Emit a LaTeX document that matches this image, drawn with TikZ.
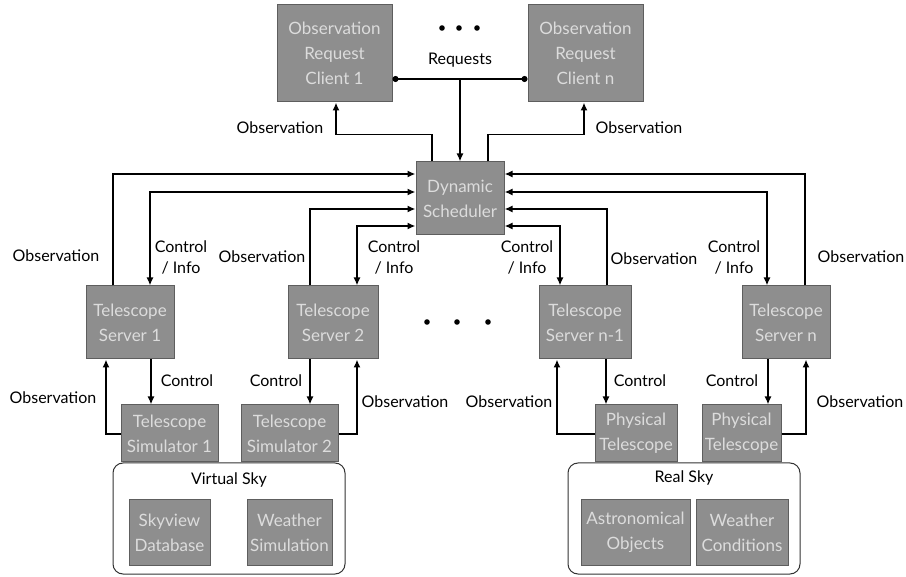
\documentclass[tikz,border=0pt]{standalone}
\usepackage{fontspec}
\setmainfont{Lato}
\usetikzlibrary{arrows.meta}

\definecolor{boxfill}{HTML}{8E8E8E}
\definecolor{boxline}{HTML}{5E5E5E}
\definecolor{boxtext}{HTML}{DCDCDC}

\tikzset{
    >={Latex[length=8pt,width=7pt]},
    box/.style={draw=boxline, fill=boxfill, text=boxtext, line width=1pt, align=center,
        inner sep=0pt, font=\fontsize{17}{25}\selectfont},
    sky/.style={draw=black!80, fill=white, line width=1pt, rounded corners=10pt, inner sep=0pt},
    lbl/.style={align=center, font=\fontsize{16}{21}\selectfont},
    link/.style={line width=1.8pt},
}

\begin{document}
\begin{tikzpicture}[x=1pt, y=-1pt]

    \useasboundingbox (0,0) rectangle (906,577);
    \fill[white] (0,0) rectangle (906,577);

    % Skies
    \node[sky, minimum width=232, minimum height=111] (vsky) at (229,518.5) {};
    \node[sky, minimum width=232, minimum height=111] (rsky) at (684,518.5) {};
    \node[lbl] (vskyt) at (229,480) {Virtual Sky};
    \node[lbl] (rskyt) at (684,478) {Real Sky};
    \node[box, minimum width=81,  minimum height=65] (skyview) at (169.5,532.5) {Skyview\\Database};
    \node[box, minimum width=85,  minimum height=65] (wsim)    at (289.5,532.5) {Weather\\Simulation};
    \node[box, minimum width=109, minimum height=65] (astro)   at (635.5,532.5) {Astronomical\\Objects};
    \node[box, minimum width=92,  minimum height=65] (wcond)   at (742,532.5)   {Weather\\Conditions};

    % Clients and scheduler
    \node[box, minimum width=115, minimum height=97] (cl1) at (334.5,53.5) {Observation\\Request\\Client 1};
    \node[box, minimum width=115, minimum height=97] (cln) at (585.5,53.5) {Observation\\Request\\Client n};
    \node[box, minimum width=88,  minimum height=73] (sched) at (460,198.5) {Dynamic\\Scheduler};

    % Telescope servers
    \node[box, minimum width=88, minimum height=73] (ts1)  at (130,322.5) {Telescope\\Server 1};
    \node[box, minimum width=90, minimum height=73] (ts2)  at (333,322.5) {Telescope\\Server 2};
    \node[box, minimum width=92, minimum height=73] (tsn1) at (585,322.5) {Telescope\\Server n-1};
    \node[box, minimum width=88, minimum height=73] (tsn)  at (786,322.5) {Telescope\\Server n};

    % Telescopes
    \node[box, minimum width=97, minimum height=57] (sim1) at (169.5,433.5) {Telescope\\Simulator 1};
    \node[box, minimum width=97, minimum height=57] (sim2) at (289.5,433.5) {Telescope\\Simulator 2};
    \node[box, minimum width=82, minimum height=57] (pt1)  at (636,433.5)   {Physical\\Telescope};
    \node[box, minimum width=79, minimum height=57] (pt2)  at (741.5,433.5) {Physical\\Telescope};

    % Dots
    \foreach \x in {442,459,477} \fill (\x,28) circle (2.8);
    \foreach \x in {427,457,488} \fill (\x,322) circle (2.8);

    % Requests
    \coordinate (req) at (460,79);
    \draw[link, {Circle[length=6pt]}-{Circle[length=6pt]}] (cl1.east |- req) -- (cln.west |- req);
    \draw[link, ->] (req) -- (sched.north);
    \node[lbl] (reql) at (460,60) {Requests};

    % Observation to clients
    \draw[link, ->] (sched.north -| 432,0) -- ++(0,-27) -| (cl1.south -| 336,0);
    \draw[link, ->] (sched.north -| 488,0) -- ++(0,-27) -| (cln.south -| 584,0);
    \node[lbl] (obsc1) at (280,128) {Observation};
    \node[lbl] (obscn) at (639,128) {Observation};

    % Servers to scheduler
    \draw[link, ->]  (ts1.north -| 113,0)  |- (sched.west |- 0,174);
    \draw[link, <->] (ts1.north -| 150,0)  |- (sched.west |- 0,192);
    \draw[link, ->]  (ts2.north -| 310,0)  |- (sched.west |- 0,209);
    \draw[link, <->] (ts2.north -| 357,0)  |- (sched.west |- 0,226);
    \draw[link, ->]  (tsn.north -| 805,0)  |- (sched.east |- 0,174);
    \draw[link, <->] (tsn.north -| 767,0)  |- (sched.east |- 0,192);
    \draw[link, ->]  (tsn1.north -| 607,0) |- (sched.east |- 0,209);
    \draw[link, <->] (tsn1.north -| 560,0) |- (sched.east |- 0,226);

    \node[lbl] (obs1) at (56,256)  {Observation};
    \node[lbl] (ci1)  at (181,257) {Control\\/ Info};
    \node[lbl] (obs2) at (262,257) {Observation};
    \node[lbl] (ci2)  at (394,257) {Control\\/ Info};
    \node[lbl] (ci3)  at (527,257) {Control\\/ Info};
    \node[lbl] (obs3) at (654,259) {Observation};
    \node[lbl] (ci4)  at (734,257) {Control\\/ Info};
    \node[lbl] (obs4) at (861,257) {Observation};

    % Servers to telescopes
    \draw[link, ->] (ts1.south -| 151,0)  -- (sim1.north -| 151,0);
    \draw[link, ->] (sim1.west |- 0,434)  -| (ts1.south -| 106,0);
    \draw[link, ->] (ts2.south -| 310,0)  -- (sim2.north -| 310,0);
    \draw[link, ->] (sim2.east |- 0,434)  -| (ts2.south -| 357,0);
    \draw[link, ->] (tsn1.south -| 606,0) -- (pt1.north -| 606,0);
    \draw[link, ->] (pt1.west |- 0,434)   -| (tsn1.south -| 557,0);
    \draw[link, ->] (tsn.south -| 768,0)  -- (pt2.north -| 768,0);
    \draw[link, ->] (pt2.east |- 0,434)   -| (tsn.south -| 806,0);

    \node[lbl] (obs5) at (53,398)  {Observation};
    \node[lbl] (c1)   at (187,381) {Control};
    \node[lbl] (c2)   at (276,381) {Control};
    \node[lbl] (obs6) at (405,402) {Observation};
    \node[lbl] (obs7) at (509,402) {Observation};
    \node[lbl] (c3)   at (640,381) {Control};
    \node[lbl] (c4)   at (732,381) {Control};
    \node[lbl] (obs8) at (860,402) {Observation};

\end{tikzpicture}
\end{document}
